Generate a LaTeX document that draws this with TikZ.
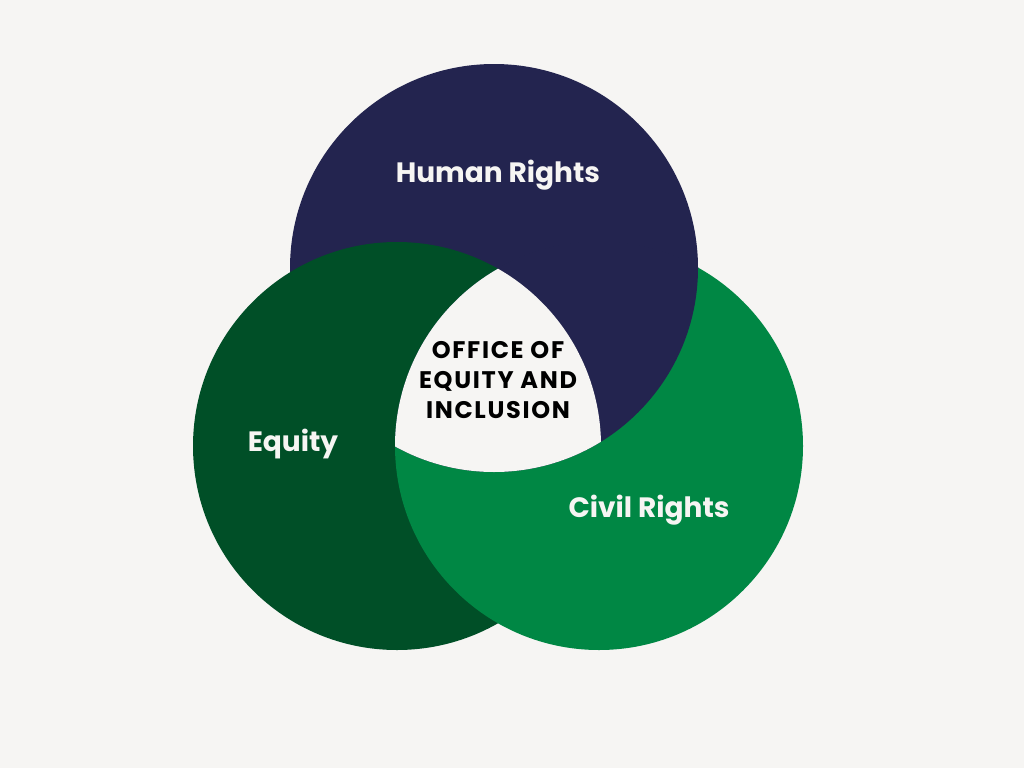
\documentclass[tikz,border=0pt]{standalone}
\usepackage{fontspec}
\setmainfont{Poppins}[UprightFont=* Bold]
\usetikzlibrary{positioning}
\definecolor{paper}{HTML}{F6F5F3}
\definecolor{navy}{HTML}{23244F}
\definecolor{forest}{HTML}{004F27}
\definecolor{leaf}{HTML}{008744}
\tikzstyle{circlabel} = [text=paper, font=\fontsize{28}{32}\selectfont, inner sep=0pt, anchor=base]
\tikzstyle{core} = [text=black, font=\fontsize{24}{30}\selectfont\addfontfeature{LetterSpace=7},
    align=center, inner sep=0pt, anchor=base]

\begin{document}
\begin{tikzpicture}[x=1pt,y=-1pt]
  \fill[paper] (0,0) rectangle (1024,768);
  \useasboundingbox (0,0) rectangle (1024,768);

  \coordinate (hr) at (494,268);
  \coordinate (eq) at (397,446);
  \coordinate (cr) at (599,446);

  % navy, then dark green over it, then green over dark green
  \fill[navy]   (hr) circle (204);
  \fill[forest] (eq) circle (204);
  \fill[leaf]   (cr) circle (204);
  % navy back over green
  \begin{scope}
    \clip (cr) circle (204);
    \fill[navy] (hr) circle (204);
  \end{scope}
  % hide the hidden edge of the green circle
  \begin{scope}[even odd rule]
    \clip (hr) circle (204);
    \clip (0,0) rectangle (1024,768) (eq) circle (204);
    \draw[navy, line width=1.5pt] (cr) circle (204);
  \end{scope}
  % middle part left open
  \begin{scope}
    \clip (hr) circle (204);
    \clip (eq) circle (204);
    \fill[paper] (cr) circle (204);
  \end{scope}

  \node[circlabel] (human) at (498,182) {Human Rights};
  \node[circlabel] (equity) at (293,451) {Equity};
  \node[circlabel] (civil) at (649,517) {Civil Rights};
  \node[core] (office) at (498,418) {OFFICE OF\\EQUITY AND\\INCLUSION};
\end{tikzpicture}
\end{document}
